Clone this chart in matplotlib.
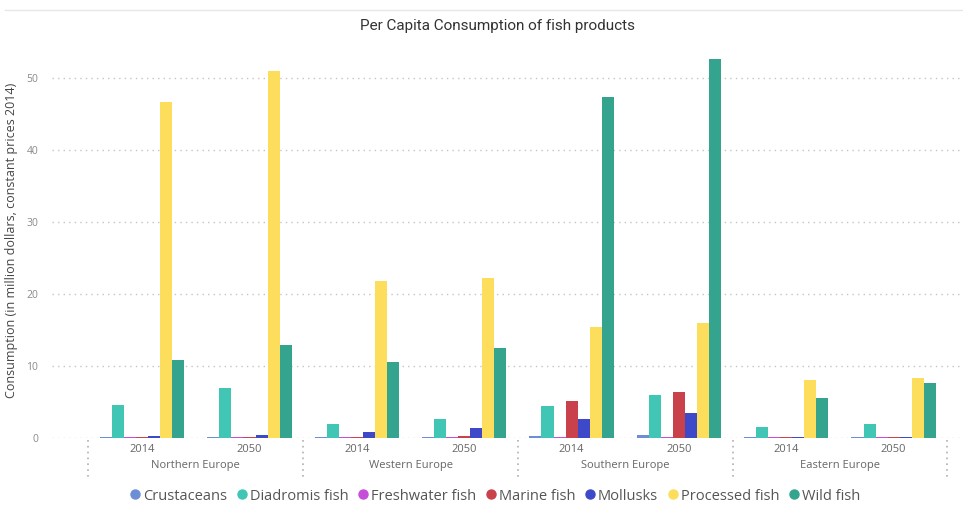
import matplotlib
matplotlib.use("Agg")
from matplotlib import pyplot as plt
from matplotlib.lines import Line2D
import numpy as np

# data
regions = ["Northern Europe", "Western Europe", "Southern Europe", "Eastern Europe"]
years = ["2014", "2050"]
series = ["Crustaceans", "Diadromis fish", "Freshwater fish", "Marine fish",
          "Mollusks", "Processed fish", "Wild fish"]
colors = ["#6C8ED4", "#41C5B5", "#C64FD9", "#C9414B", "#3D49C9", "#FDDD5C", "#35A48E"]

# one list per series, order: N14, N50, W14, W50, S14, S50, E14, E50
crustaceans = [0.1, 0.1, 0.1, 0.1, 0.3, 0.4, 0.1, 0.1]
diadromis = [4.6, 7.0, 1.9, 2.7, 4.5, 6.0, 1.5, 2.0]
freshwater = [0.1, 0.1, 0.1, 0.1, 0.1, 0.1, 0.1, 0.1]
marine = [0.1, 0.1, 0.2, 0.3, 5.2, 6.4, 0.1, 0.1]
mollusks = [0.3, 0.5, 0.9, 1.4, 2.7, 3.5, 0.1, 0.1]
processed = [46.7, 51.0, 21.8, 22.2, 15.4, 16.0, 8.1, 8.4]
wild = [10.9, 12.9, 10.6, 12.5, 47.4, 52.7, 5.5, 7.7]

values = [crustaceans, diadromis, freshwater, marine, mollusks, processed, wild]

plt.rcParams["font.family"] = ["Open Sans", "DejaVu Sans"]

fig = plt.figure(figsize=(9.63, 5.13), dpi=100)
ax = fig.add_axes([0.054, 0.146, 0.943, 0.772])

x = np.arange(len(regions) * len(years))
width = 0.112
for i, (name, vals) in enumerate(zip(series, values)):
    offset = (i - 3) * width
    ax.bar(x + offset, vals, width, color=colors[i], label=name, zorder=3)

ax.set_xlim(-0.84, 7.62)
ax.set_ylim(0, 55)
ax.set_yticks(range(0, 51, 10))
ax.yaxis.grid(True, color="#c4c4c4", linestyle=(0, (1, 3)), linewidth=1.0, zorder=0)
ax.tick_params(axis="y", length=0, labelsize=7.5, labelcolor="#8a8a8a", pad=10)
ax.set_xticks([])
for s in ax.spines.values():
    s.set_visible(False)

ax.set_ylabel("Consumption (in million dollars, constant prices 2014)",
              fontsize=9, color="#444444", labelpad=6)

# hierarchical category labels
trans = ax.get_xaxis_transform()
for k, xi in enumerate(x):
    ax.text(xi, -0.03, years[k % 2], transform=trans, ha="center", va="center",
            fontsize=8, color="#666666")
for r, reg in enumerate(regions):
    ax.text(2 * r + 0.5, -0.068, reg, transform=trans, ha="center", va="center",
            fontsize=8, color="#666666")
for b in [-0.5, 1.5, 3.5, 5.5, 7.5]:
    ax.plot([b, b], [-0.005, -0.10], transform=trans, color="#b0b0b0",
            linestyle=(0, (1, 2.5)), linewidth=1.2, clip_on=False)

fig.suptitle("Per Capita Consumption of fish products", x=0.517, y=0.962,
             fontsize=11, color="#333333", family=["Roboto", "DejaVu Sans"])
fig.add_artist(Line2D([0.005, 1.0], [0.981, 0.981], color="#e6e6e6", linewidth=1))

handles = [Line2D([], [], marker="o", linestyle="", markersize=6.5,
                  markerfacecolor=c, markeredgecolor=c) for c in colors]
fig.legend(handles, series, loc="center", bbox_to_anchor=(0.513, 0.033),
           ncol=7, frameon=False, fontsize=10.5, handletextpad=0.05,
           columnspacing=0.5, labelcolor="#555555", handlelength=1.0)

plt.savefig("out.png", dpi=100)
